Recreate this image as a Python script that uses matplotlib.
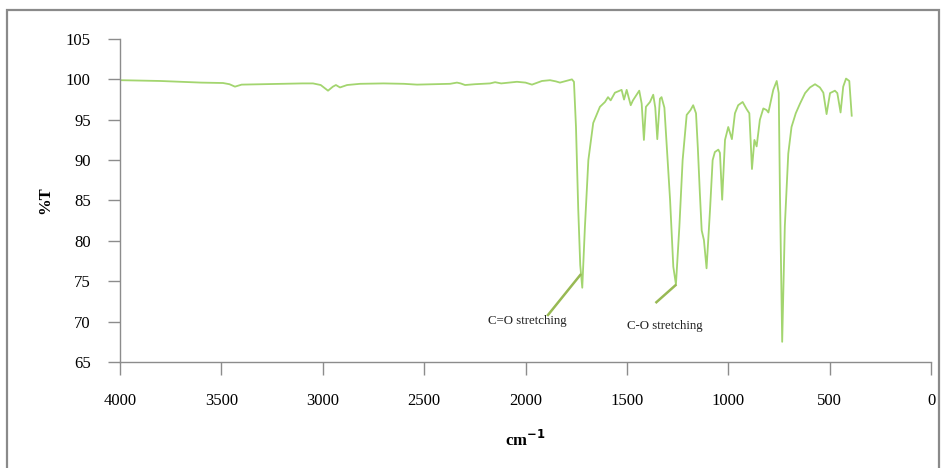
import matplotlib
matplotlib.use("Agg")
import matplotlib.pyplot as plt
from matplotlib.patches import Rectangle

# IR spectrum, wavenumber (cm-1) vs transmittance (%T)
wavenumber = [
    4000, 3800, 3600, 3492, 3460, 3433, 3400, 3300, 3200, 3100, 3048, 3010,
    2974, 2950, 2935, 2915, 2880, 2816, 2700, 2600, 2535, 2450, 2372, 2338,
    2320, 2298, 2250, 2175, 2150, 2120, 2042, 2000, 1968, 1940, 1919, 1879,
    1850, 1830, 1800, 1771, 1761, 1751, 1740, 1730, 1720, 1707, 1690, 1666,
    1633, 1608, 1593, 1580, 1559, 1526, 1514, 1501, 1481, 1470, 1439, 1427,
    1416, 1406, 1386, 1370, 1360, 1350, 1337, 1329, 1315, 1304, 1287, 1271,
    1258, 1241, 1225, 1205, 1186, 1173, 1159, 1150, 1140, 1131, 1120, 1107,
    1090, 1077, 1066, 1049, 1041, 1030, 1016, 1000, 982, 967, 951, 929,
    909, 896, 883, 871, 860, 844, 827, 811, 802, 778, 761, 751,
    745, 734, 721, 704, 688, 667, 646, 621, 597, 572, 548, 531,
    515, 498, 474, 462, 446, 433, 419, 403, 391,
]
transmittance = [
    99.9, 99.8, 99.6, 99.55, 99.4, 99.1, 99.35, 99.4, 99.45, 99.5, 99.5, 99.3,
    98.6, 99.1, 99.3, 99.0, 99.3, 99.45, 99.5, 99.45, 99.35, 99.4, 99.45, 99.6,
    99.5, 99.3, 99.4, 99.5, 99.65, 99.5, 99.7, 99.6, 99.35, 99.6, 99.8, 99.9,
    99.75, 99.6, 99.8, 100.0, 99.7, 94.1, 84.0, 77.0, 74.2, 81.7, 90.0, 94.6,
    96.6, 97.2, 97.8, 97.4, 98.35, 98.7, 97.5, 98.7, 96.8, 97.4, 98.6, 97.0,
    92.5, 96.6, 97.2, 98.1, 96.5, 92.6, 97.6, 97.8, 96.5, 92.1, 85.1, 76.8,
    74.6, 81.8, 90.0, 95.6, 96.2, 96.8, 95.8, 91.5, 85.9, 81.3, 80.1, 76.6,
    83.8, 90.0, 91.0, 91.3, 90.9, 85.1, 92.5, 94.1, 92.6, 95.8, 96.8, 97.2,
    96.3, 95.8, 88.9, 92.5, 91.7, 95.0, 96.4, 96.2, 95.9, 98.7, 99.8, 98.3,
    85.9, 67.5, 81.8, 90.8, 94.1, 95.8, 97.0, 98.3, 99.0, 99.4, 99.0, 98.35,
    95.7, 98.3, 98.6, 98.3, 95.9, 99.1, 100.1, 99.8, 95.5,
]

x_ticks = [4000, 3500, 3000, 2500, 2000, 1500, 1000, 500, 0]
y_ticks = [65, 70, 75, 80, 85, 90, 95, 100, 105]

# band labels: text, text position, pointer start, pointer end
bands = [
    ("C=O stretching", (1993, 70.1), (1893, 70.7), (1726, 75.9)),
    ("C-O stretching", (1312, 69.45), (1359, 72.3), (1256, 74.6)),
]

plt.rcParams["font.family"] = ["Liberation Serif", "DejaVu Serif"]
axis_grey = "#8c8c8c"

fig = plt.figure(figsize=(9.41, 4.68), dpi=100)
ax = fig.add_axes([120 / 941, 1 - 362 / 468, 811 / 941, 323 / 468])

ax.plot(wavenumber, transmittance, color="#a3d56f", lw=1.3, solid_joinstyle="round")

ax.set_xlim(4000, 0)
ax.set_ylim(65, 105)
ax.set_xticks(x_ticks)
ax.set_yticks(y_ticks)
ax.tick_params(axis="both", direction="out", length=9, width=1, color=axis_grey,
               labelsize=12, labelcolor="black")
ax.tick_params(axis="x", pad=13)
ax.tick_params(axis="y", pad=12)
for side in ("top", "right"):
    ax.spines[side].set_visible(False)
for side in ("left", "bottom"):
    ax.spines[side].set_color(axis_grey)
    ax.spines[side].set_linewidth(1)

ax.set_xlabel("cm$^{\\mathbf{-1}}$", fontsize=12, fontweight="bold", va="center")
ax.set_ylabel("%T", fontsize=12, fontweight="bold", va="center")
ax.xaxis.set_label_coords(0.5, -78 / 323)
ax.yaxis.set_label_coords(-75 / 811, 0.5)

for label, text_xy, start, end in bands:
    ax.plot([start[0], end[0]], [start[1], end[1]], color="#98b954", lw=1.8,
            solid_capstyle="butt")
    ax.text(text_xy[0], text_xy[1], label, fontsize=9.3, color="#222222",
            ha="center", va="center")

# outer frame around the whole chart
fig.patches.append(Rectangle((7 / 941, -0.1), 932 / 941, 1.1 - 10 / 468,
                             transform=fig.transFigure, fill=False,
                             edgecolor="#8a8a8a", lw=1.6))

fig.savefig("out.png", dpi=100)
